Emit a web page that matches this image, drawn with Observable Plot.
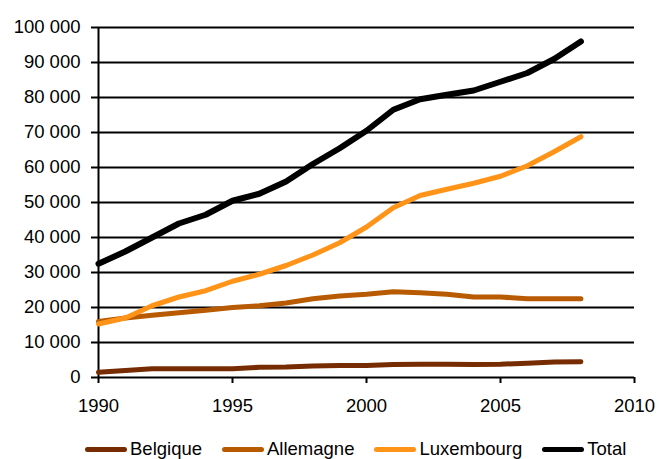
<!DOCTYPE html>
<html><head><meta charset="utf-8">
<script src="https://cdn.jsdelivr.net/npm/d3@7"></script>
<script src="https://cdn.jsdelivr.net/npm/@observablehq/plot@0.6"></script>
<style>
body{margin:0;background:#fff;font-family:"Liberation Sans",Arial,sans-serif;}
#chart svg text{font-size:18.5px;font-family:"Liberation Sans",Arial,sans-serif;fill:#000;}
#legend{display:flex;gap:20px;padding-left:85px;padding-top:13px;font-size:18.5px;line-height:22px;color:#000;white-space:nowrap;}
.item{display:flex;align-items:center;}
.sw{width:42px;height:5px;border-radius:3px;margin-right:3px;}
</style></head>
<body><div id="chart"></div><div id="legend"></div>
<script>
const years = [1990,1991,1992,1993,1994,1995,1996,1997,1998,1999,2000,2001,2002,2003,2004,2005,2006,2007,2008];
const belgique = [1500,2000,2500,2500,2500,2500,2900,3000,3300,3400,3400,3700,3800,3800,3700,3800,4100,4400,4500];
const allemagne = [16000,17000,17800,18500,19200,20000,20500,21300,22500,23300,23800,24500,24200,23800,23000,23000,22500,22500,22500];
const luxembourg = [15300,17000,20500,23000,24800,27500,29500,32000,35000,38500,43000,48500,52000,53800,55500,57500,60500,64500,68800];
const total = [32500,36000,40000,44000,46500,50500,52500,56000,61000,65500,70500,76500,79500,80800,82000,84500,87000,91000,96000];
const seriesNames = ["Belgique","Allemagne","Luxembourg","Total"];
const seriesColors = ["#772c00","#b85a00","#ff9419","#000000"];
const seriesWidths = [5,5,5,6];
const yTicks = [0,10000,20000,30000,40000,50000,60000,70000,80000,90000,100000];
const xTicks = [1990,1995,2000,2005,2010];

const allSeries = [belgique, allemagne, luxembourg, total];
const fmt = d3.formatLocale({decimal:",",thousands:"\u00a0",grouping:[3],currency:["","€"]}).format(",");

const lineMarks = seriesNames.map((n,i)=>
  Plot.line(years.map((y,j)=>({year:y, value:allSeries[i][j]})), {x:"year", y:"value", stroke:seriesColors[i], strokeWidth:seriesWidths[i], strokeLinejoin:"round", strokeLinecap:"round"})
);

const chart = Plot.plot({
  width:659, height:425,
  marginLeft:98, marginRight:25, marginTop:27, marginBottom:48,
  style:{fontFamily:"'Liberation Sans', Arial, sans-serif", fontSize:"18.5px", color:"#000", background:"#fff"},
  x:{domain:[1990,2010], label:null},
  y:{domain:[0,100000], label:null},
  marks:[
    Plot.ruleY(yTicks, {x1:1990, x2:2010, stroke:"#000", strokeWidth:2}),
    Plot.ruleX([1990], {y1:0, y2:100000, stroke:"#000", strokeWidth:2}),
    Plot.axisY({ticks:yTicks, tickFormat:fmt, tickSize:7, tickPadding:11, strokeWidth:2, label:null, fontSize:18.5}),
    Plot.axisX({ticks:xTicks, tickFormat:"d", tickSize:6, tickPadding:15, strokeWidth:2, label:null, fontSize:18.5}),
    ...lineMarks
  ]
});
document.getElementById("chart").appendChild(chart);

const leg = document.getElementById("legend");
seriesNames.forEach((n,i)=>{
  const it = document.createElement("div"); it.className="item";
  const sw = document.createElement("div"); sw.className="sw"; sw.style.background=seriesColors[i];
  const t = document.createElement("span"); t.textContent=n;
  it.appendChild(sw); it.appendChild(t); leg.appendChild(it);
});
</script></body></html>
